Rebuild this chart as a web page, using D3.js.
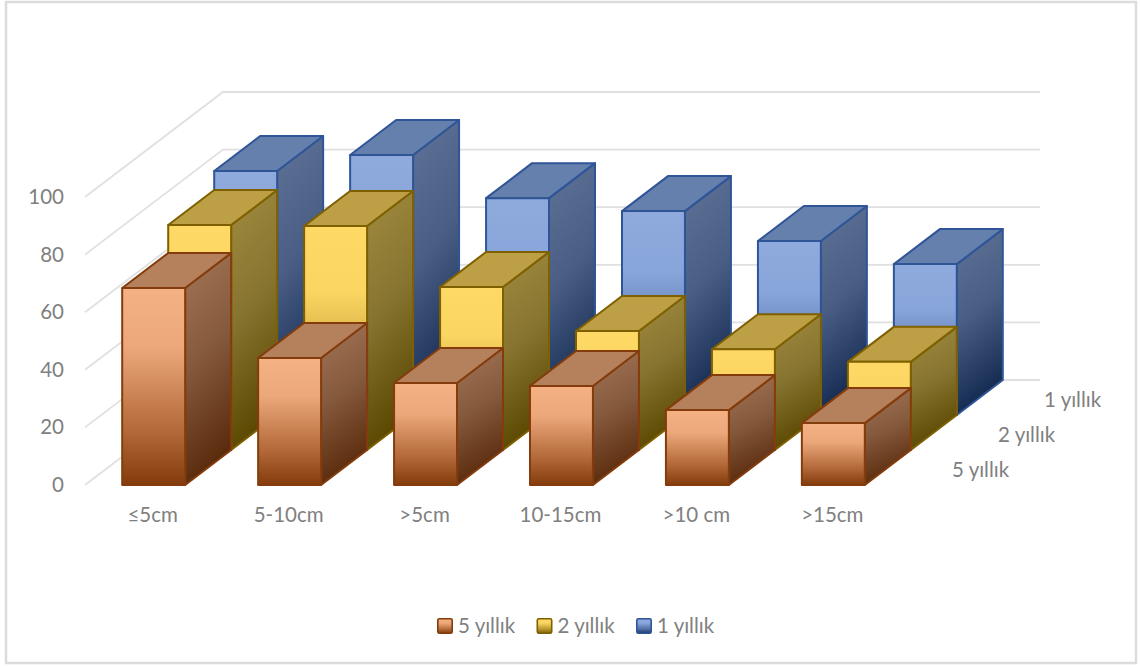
<!DOCTYPE html>
<html lang="en">
<head>
    <meta charset="UTF-8">
    <script src="https://cdn.jsdelivr.net/npm/d3@7"></script>
    <title>Document</title>
    <style>
        html, body { margin: 0; background: #fff; }
        text { font-family: Lato, "Open Sans", sans-serif; font-size: 20.5px; fill: #808080; }
        .frame { fill: #fff; stroke: #dcdcdc; stroke-width: 2.5px; }
        .grid { fill: none; stroke: #e0e0e0; stroke-width: 1.8px; }
        .axis-y .domain { display: none; }
        .axis-y text { font-family: Lato, "Open Sans", sans-serif; font-size: 20.5px; fill: #808080; }
    </style>
</head>
<body>
<svg id="chart" width="1140" height="666"></svg>

<script>
    const categories = ['≤5cm', '5-10cm', '>5cm', '10-15cm', '>10 cm', '>15cm'];
    const seriesNames = ['5 yıllık', '2 yıllık', '1 yıllık'];
    const values5 = [68.4, 44.1, 35.4, 34.4, 26, 21.5];
    const values2 = [78.1, 77.8, 56.6, 41.3, 35, 30.6];
    const values1 = [84.7, 90.3, 75.3, 70.8, 60.4, 52.4];
    const yTicks = [0, 20, 40, 60, 80, 100];

    const seriesValues = [values5, values2, values1];

    // face colours per series
    const palette = [
        { edge: '#843c0c', top: '#b5815c', front: ['#f4b183', '#eca87b', '#b46a3a', '#843c0c'], side: ['#a47658', '#85593c', '#5a2a0c'] },
        { edge: '#7f6000', top: '#bd9f45', front: ['#ffd966', '#fbd562', '#b8952e', '#7f6000'], side: ['#a08b3e', '#877430', '#5a4700'] },
        { edge: '#2f5597', top: '#6680ae', front: ['#8faadc', '#88a5da', '#4f6fa8', '#1f3864'], side: ['#5f7398', '#4a5e85', '#12294f'] }
    ];

    const svg = d3.select('#chart');

    svg.append('rect').attr('class', 'frame')
        .attr('x', 6).attr('y', 2).attr('width', 1130).attr('height', 661);

    const x = d3.scaleBand().domain(categories).range([85.5, 901.5]).paddingInner(0.537).paddingOuter(0.27);
    const y = d3.scaleLinear().domain([0, 100]).range([485, 197]);
    // oblique depth: each series sits one step back and up
    const depthX = d3.scaleLinear().domain([0, 3]).range([0, 138]);
    const depthY = d3.scaleLinear().domain([0, 3]).range([0, -105]);

    const project = (px, v, d) => [px + depthX(d), y(v) + depthY(d)];
    const polyline = d3.line();

    // walls
    const wallLines = svg.append('g').attr('class', 'grid');
    wallLines.selectAll('path').data(yTicks).join('path')
        .attr('d', v => polyline([project(85, v, 0), project(85, v, 3), project(902, v, 3)]));

    // gradients
    const defs = svg.append('defs');
    palette.forEach((p, i) => {
        const front = defs.append('linearGradient').attr('id', 'front' + i)
            .attr('x1', 0).attr('y1', 0).attr('x2', 0).attr('y2', 1);
        [0, 0.3, 0.72, 1].forEach((o, k) => front.append('stop').attr('offset', o).attr('stop-color', p.front[k]));
        const side = defs.append('linearGradient').attr('id', 'side' + i)
            .attr('x1', 0).attr('y1', 0).attr('x2', 0.2).attr('y2', 1);
        [0, 0.5, 1].forEach((o, k) => side.append('stop').attr('offset', o).attr('stop-color', p.side[k]));
    });

    // back series first so nearer bars cover them
    d3.range(seriesValues.length - 1, -1, -1).forEach(s => {
        const g = svg.append('g').attr('class', 'series');
        const p = palette[s];
        const bars = g.selectAll('g').data(categories.map((c, i) => ({ c, v: seriesValues[s][i] }))).join('g')
            .attr('stroke', p.edge).attr('stroke-width', 2).attr('stroke-linejoin', 'round');

        const left = d => x(d.c);
        const right = d => x(d.c) + x.bandwidth();

        bars.append('path').attr('fill', `url(#side${s})`)
            .attr('d', d => polyline([project(right(d), 0, s), project(right(d), d.v, s), project(right(d), d.v, s + 1), project(right(d), 0, s + 1)]) + 'Z');
        bars.append('path').attr('fill', p.top)
            .attr('d', d => polyline([project(left(d), d.v, s), project(left(d), d.v, s + 1), project(right(d), d.v, s + 1), project(right(d), d.v, s)]) + 'Z');
        bars.append('path').attr('fill', `url(#front${s})`)
            .attr('d', d => polyline([project(left(d), 0, s), project(left(d), d.v, s), project(right(d), d.v, s), project(right(d), 0, s)]) + 'Z');
    });

    // value axis
    svg.append('g').attr('class', 'axis-y')
        .attr('transform', 'translate(64,0)')
        .call(d3.axisLeft(y).tickValues(yTicks).tickSize(0).tickPadding(0));

    // category labels
    svg.append('g').selectAll('text').data(categories).join('text')
        .attr('x', d => x(d) + x.bandwidth() / 2 - 1)
        .attr('y', 515).attr('dy', '0.35em').attr('text-anchor', 'middle')
        .text(d => d);

    // depth axis labels
    svg.append('g').selectAll('text').data(seriesNames).join('text')
        .attr('x', (d, i) => project(929, 0, i + 0.5)[0])
        .attr('y', (d, i) => project(929, 0, i + 0.5)[1] + 2.5)
        .attr('dy', '0.35em')
        .text(d => d);

    // legend
    const legendX = d3.scalePoint().domain(seriesNames).range([437, 636]);
    const legend = svg.append('g').selectAll('g').data(seriesNames).join('g')
        .attr('transform', d => `translate(${legendX(d)},618)`);
    legend.append('rect').attr('x', 0.8).attr('y', 0.8).attr('width', 14.4).attr('height', 14.4).attr('rx', 1.5)
        .attr('fill', (d, i) => `url(#front${i})`)
        .attr('stroke', (d, i) => palette[i].edge).attr('stroke-width', 1.6);
    legend.append('text').attr('x', 21).attr('y', 8).attr('dy', '0.35em').text(d => d);
</script>
</body>
</html>
